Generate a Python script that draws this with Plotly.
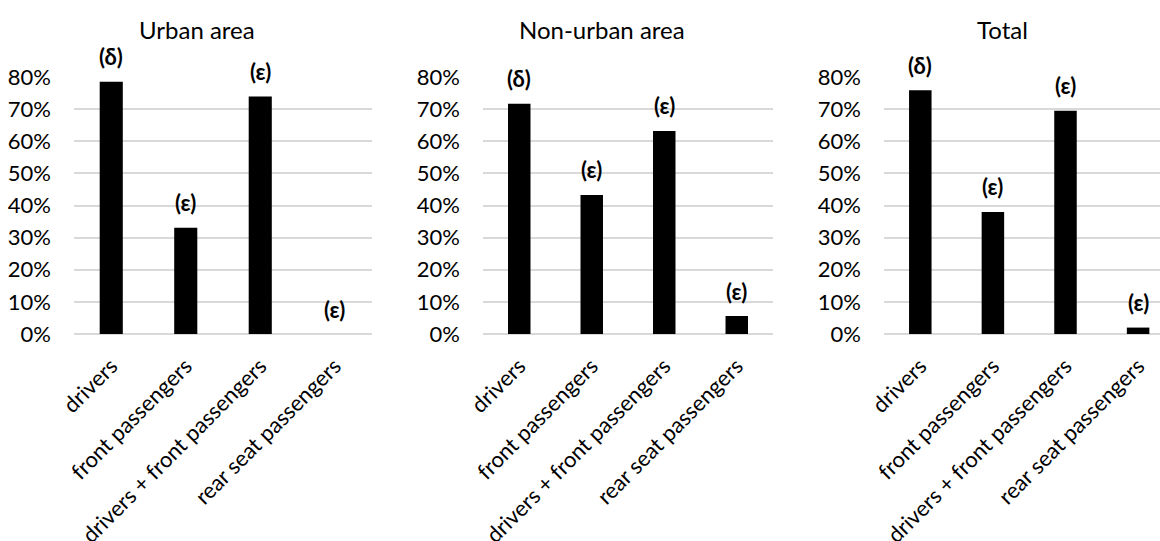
import plotly.graph_objects as go

# Seat-belt use by occupant position
categories = ["drivers", "front passengers", "drivers + front passengers", "rear seat passengers"]
panel_titles = ["Urban area", "Non-urban area", "Total"]
urban = [78.5, 33.1, 73.9, 0.0]
non_urban = [71.7, 43.3, 63.2, 5.6]
total = [75.9, 38.0, 69.5, 2.0]
urban_marks = ["(δ)", "(ε)", "(ε)", "(ε)"]
non_urban_marks = ["(δ)", "(ε)", "(ε)", "(ε)"]
total_marks = ["(δ)", "(ε)", "(ε)", "(ε)"]
y_ticks = [0, 10, 20, 30, 40, 50, 60, 70, 80]

W, H = 1160, 541
TOP, BOTTOM = 77, 207
FONT = "Lato, 'Open Sans', sans-serif"
GRID = "#d9d9d9"

panels = [
    # (values, marks, x-domain in px, x-range, title centre px)
    (urban, urban_marks, (74, 372), (-0.5, 3.5), 197),
    (non_urban, non_urban_marks, (483, 773), (-0.5, 3.5), 602),
    (total, total_marks, (884, 1160), (-0.5, -0.5 + (1160 - 884) / 72.6), 1002),
]

fig = go.Figure()
layout = dict(
    width=W, height=H,
    margin=dict(l=0, r=0, t=TOP, b=BOTTOM, autoexpand=False),
    paper_bgcolor="white", plot_bgcolor="white",
    showlegend=False,
    font=dict(family=FONT, size=18, color="#000000"),
    annotations=[],
)

plot_h = H - TOP - BOTTOM
xpos = list(range(len(categories)))
for i, (vals, marks, (x0, x1), xr, tcx) in enumerate(panels):
    n = "" if i == 0 else str(i + 1)
    xa, ya = "x" + n, "y" + n
    fig.add_trace(go.Bar(
        x=xpos, y=vals, width=0.31,
        marker=dict(color="#000000", line=dict(width=0)),
        xaxis=xa, yaxis=ya, hoverinfo="skip",
    ))
    layout["xaxis" + n] = dict(
        domain=[x0 / W, x1 / W], range=list(xr),
        tickvals=xpos, ticktext=categories, tickangle=-45,
        showgrid=False, zeroline=False, showline=False,
        ticks="", ticklabelstandoff=14, automargin=False,
        tickfont=dict(size=22, color="#000000"),
        anchor=ya, fixedrange=True,
    )
    layout["yaxis" + n] = dict(
        domain=[0, 1], range=[0, 80],
        tickvals=y_ticks, ticktext=[f"{v}%" for v in y_ticks],
        showgrid=True, gridcolor=GRID, gridwidth=1.5,
        zeroline=True, zerolinecolor=GRID, zerolinewidth=1.5,
        showline=False, ticks="", ticklabelstandoff=22, automargin=False,
        tickfont=dict(size=22, color="#000000"),
        anchor=xa, fixedrange=True,
    )
    for xi, v, m in zip(xpos, vals, marks):
        layout["annotations"].append(dict(
            x=xi, y=v, xref=xa, yref=ya, text=f"<b>{m}</b>",
            showarrow=False, yanchor="middle", yshift=25,
            font=dict(size=22, color="#000000"),
        ))
    layout["annotations"].append(dict(
        x=tcx / W, y=(H - BOTTOM - 29) / plot_h, xref="paper", yref="paper",
        yanchor="middle", xanchor="center", text=panel_titles[i],
        showarrow=False, font=dict(size=24, color="#000000"),
    ))

fig.update_layout(**layout)
fig.write_html("out.html")
